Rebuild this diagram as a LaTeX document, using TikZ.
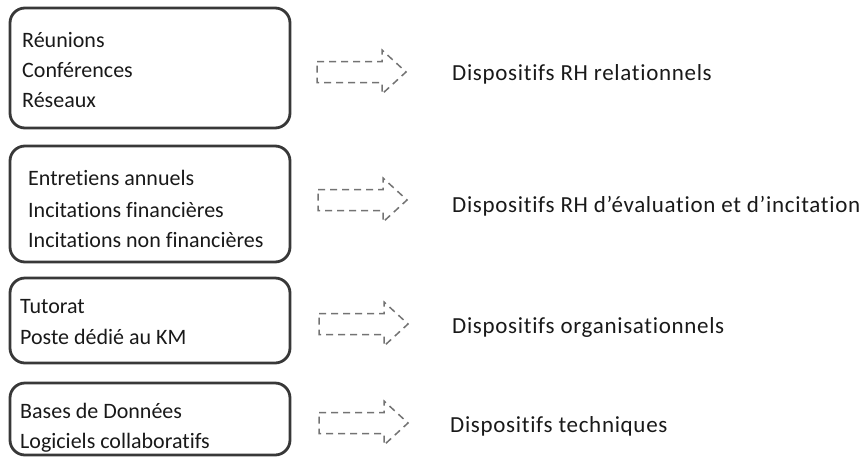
\documentclass[tikz,border=0pt]{standalone}
\usepackage{fontspec}
\setmainfont[Ligatures={NoCommon}]{Carlito}
\newfontfamily\labfont[Ligatures={NoCommon},LetterSpace=3]{Carlito}
\begin{document}
\begin{tikzpicture}[x=1pt,y=-1pt,
  box/.style={draw=black!78,line width=2.8pt,rounded corners=15pt},
  item/.style={anchor=base west,inner sep=0pt,font=\fontsize{22}{26}\selectfont,text=black!90},
  lab/.style={anchor=base west,inner sep=0pt,font=\labfont\fontsize{23}{26}\selectfont,text=black!90},
  darr/.style={draw=black!55,line width=1.5pt,dash pattern=on 7pt off 5pt},
  pics/dasharrow/.style={code={
    \draw[darr] (-89,-10.5) -- (-24,-10.5) -- (-24,-22) -- (0,0) -- (-24,22) -- (-24,10.5) -- (-89,10.5) -- cycle;
  }}]
\useasboundingbox (0,0) rectangle (864,464);
% boxes
\draw[box] (10,8) rectangle (290,128);
\draw[box] (10,146) rectangle (290,262);
\draw[box] (10,278) rectangle (290,363);
\draw[box] (10,383) rectangle (290,455);
% box texts
\node[item] (a1) at (22,47) {Réunions};
\node[item] (a2) at (22,77) {Conférences};
\node[item] (a3) at (22,107) {Réseaux};
\node[item] (b1) at (28,185) {Entretiens annuels};
\node[item] (b2) at (28,217) {Incitations financières};
\node[item] (b3) at (28,247) {Incitations non financières};
\node[item] (c1) at (20,313) {Tutorat};
\node[item] (c2) at (20,344) {Poste dédié au KM};
\node[item] (d1) at (20,418) {Bases de Données};
\node[item] (d2) at (20,448) {Logiciels collaboratifs};
% arrows
\pic at (406,72) {dasharrow};
\pic at (407,200) {dasharrow};
\pic at (408,324) {dasharrow};
\pic at (408,423) {dasharrow};
% labels
\node[lab] (l1) at (452,80) {Dispositifs RH relationnels};
\node[lab] (l2) at (452,212) {Dispositifs RH d’évaluation et d’incitation};
\node[lab] (l3) at (452,333) {Dispositifs organisationnels};
\node[lab] (l4) at (450,432) {Dispositifs techniques};
\end{tikzpicture}
\end{document}
